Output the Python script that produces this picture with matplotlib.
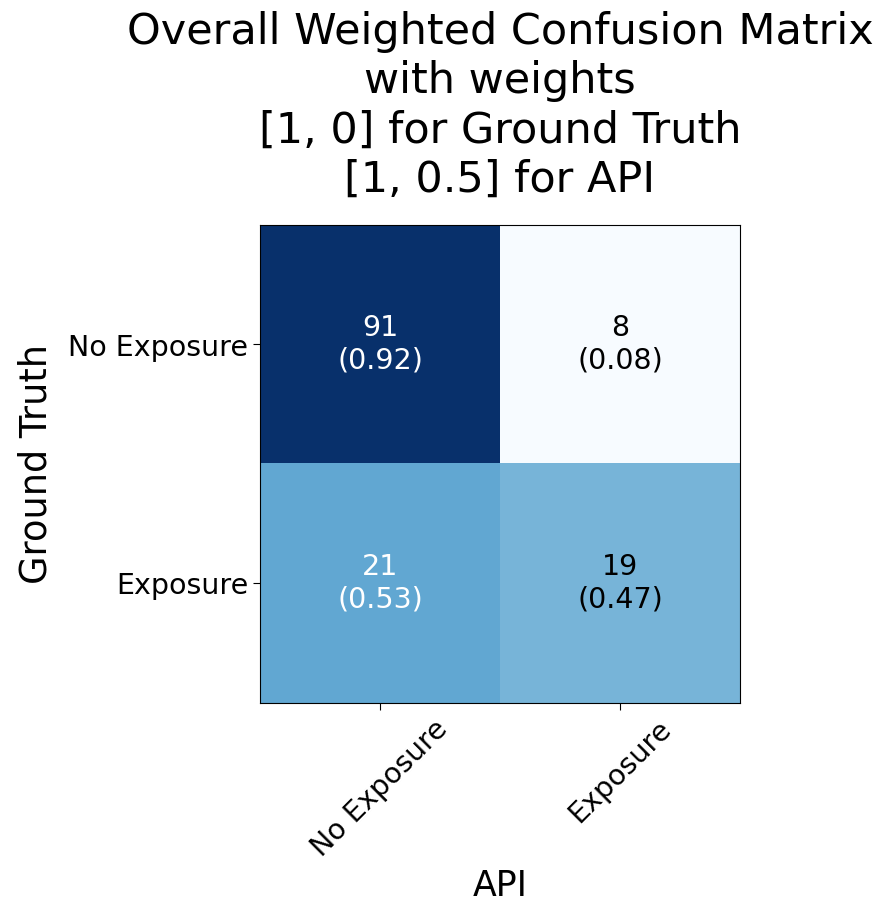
import matplotlib

matplotlib.use("Agg")
import matplotlib.pyplot as plt
import numpy as np

# counts of the weighted confusion matrix (rows = ground truth, cols = API)
classes = ["No Exposure", "Exposure"]
counts = np.array([[91, 8],
                   [21, 19]])
title_lines = [
    "Overall Weighted Confusion Matrix",
    "with weights",
    "[1, 0] for Ground Truth",
    "[1, 0.5] for API",
]

norm = counts / counts.sum(axis=1, keepdims=True)

fig = plt.figure(figsize=(8.84, 9.05), dpi=100)
ax = fig.add_axes([260 / 884, 1 - 703 / 905, 480 / 884, 478 / 905])
ax.imshow(norm, interpolation="nearest", cmap=plt.cm.Blues, aspect="auto")

ax.set_xticks(range(len(classes)))
ax.set_yticks(range(len(classes)))
ax.set_xticklabels(classes, rotation=45, fontsize=20.5)
ax.set_yticklabels(classes, fontsize=20.5)
ax.tick_params(length=5)

thresh = 0.5
for i in range(counts.shape[0]):
    for j in range(counts.shape[1]):
        ax.text(j, i, f"{counts[i, j]}\n({norm[i, j]:.2f})",
                ha="center", va="center", fontsize=20.5, linespacing=1.2,
                color="white" if norm[i, j] > thresh else "black")

ax.set_ylabel("Ground Truth", fontsize=26.5, labelpad=10)
ax.set_xlabel("API", fontsize=25, labelpad=5)
ax.set_title("\n".join(title_lines), fontsize=31, pad=24, linespacing=1.22)

fig.savefig("out.png", dpi=100)
